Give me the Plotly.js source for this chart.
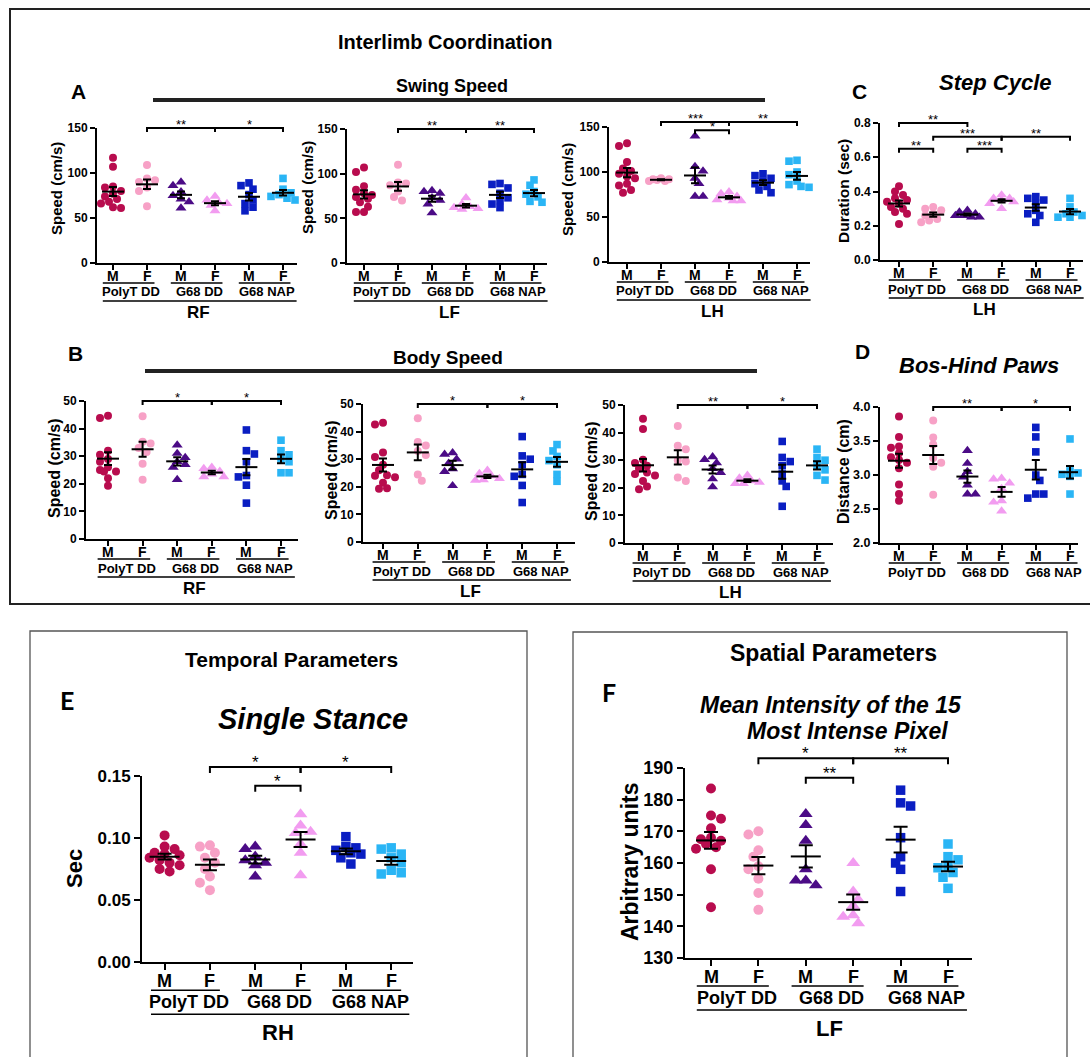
<!DOCTYPE html>
<html><head><meta charset="utf-8">
<script src="https://cdn.plot.ly/plotly-3.0.1.min.js"></script>
<style>body{margin:0;background:#fff}#chart{width:1090px;height:1057px}</style>
</head><body><div id="chart"></div>
<script>
const W = 1090, H = 1057;
const FONT = 'Liberation Sans, Arial, sans-serif';

// ---------- categories / labels ----------
const sexLabels = ['M', 'F', 'M', 'F', 'M', 'F'];
const groupLabels = ['PolyT DD', 'G68 DD', 'G68 NAP'];
const groupColors = ['#B80C4E', '#F7A1C6', '#4B0B86', '#F29CF0', '#0A1EC2', '#2AB5F5'];
const groupSymbols = ['circle', 'circle', 'triangle-up', 'triangle-up', 'square', 'square'];

// ---------- data (one list per group: PolyT M, PolyT F, G68DD M, G68DD F, NAP M, NAP F) ----------
const swingRF = [
  [117, 107, 85, 84, 80, 77, 74, 71, 68, 66, 62, 61],
  [109, 94, 92, 90, 84, 80, 63],
  [90, 86, 79, 75, 71, 68, 61],
  [74, 70, 67, 66, 64, 58],
  [89, 86, 82, 76, 70, 66, 62, 58],
  [94, 82, 78, 76, 74, 72, 70]];
const swingLF = [
  [107, 102, 86, 82, 78, 76, 74, 72, 68, 63, 57, 57],
  [110, 90, 89, 87, 80, 74, 70],
  [81, 80, 78, 73, 70, 66, 56],
  [73, 66, 63, 62, 61, 60],
  [89, 88, 84, 78, 73, 70, 66, 62],
  [93, 87, 80, 77, 74, 69, 68]];
const swingLH = [
  [132, 129, 111, 104, 101, 98, 95, 93, 87, 85, 80, 77],
  [93, 92, 91, 90, 90, 92],
  [140, 106, 101, 93, 87, 73, 73],
  [78, 76, 73, 71, 69, 68, 68],
  [98, 96, 93, 90, 87, 84, 80, 77],
  [113, 112, 100, 97, 90, 86, 84, 83]];
const stepCycleLH = [
  [0.43, 0.40, 0.38, 0.36, 0.35, 0.34, 0.33, 0.31, 0.30, 0.28, 0.27, 0.21],
  [0.31, 0.30, 0.29, 0.27, 0.26, 0.24, 0.23, 0.22],
  [0.29, 0.28, 0.27, 0.26, 0.26, 0.25, 0.25],
  [0.38, 0.36, 0.36, 0.35, 0.34, 0.33, 0.30],
  [0.37, 0.36, 0.35, 0.33, 0.29, 0.27, 0.26, 0.22],
  [0.36, 0.31, 0.28, 0.27, 0.26, 0.25, 0.25]];
const bodyRF = [
  [44.7, 43.8, 32, 30.5, 29, 28, 26, 25, 24.5, 24.5, 22, 19.3],
  [44.5, 35.2, 34.6, 33, 31.5, 27.3, 21.5],
  [34, 31, 29.5, 28, 27, 26, 21.5],
  [26, 25.5, 24.5, 23.5, 22.5, 22.5],
  [39.5, 32, 30.8, 28, 23, 22.5, 19.5, 13],
  [35.8, 32, 30.5, 29, 28, 24, 24]];
const bodyLF = [
  [43.2, 42.6, 32.4, 30.8, 28, 26, 24.2, 24, 23.5, 21.5, 19.5, 19.3],
  [44.8, 36.2, 35, 33, 31.5, 24.5, 22.2],
  [32.3, 31.8, 30, 28.5, 26.5, 25.5, 20.4],
  [26, 24.8, 24, 23, 22.5, 22.3],
  [38.2, 31.2, 30, 28, 24.5, 23.8, 20.5, 14.3],
  [35.3, 33, 31, 29.5, 28, 24.5, 22]];
const bodyLH = [
  [45, 41.3, 30.2, 29, 28, 27, 25.5, 25, 24.5, 22.5, 20.5, 19.5],
  [42.4, 35.2, 34, 30, 29.5, 23.7, 22.5],
  [31.2, 30.2, 29, 27, 25.5, 23.2, 20.3],
  [24.5, 23.5, 22.5, 22, 21.5, 21.5],
  [36.8, 31, 29.5, 28, 25, 22.5, 20.5, 13.3],
  [34, 31, 30, 28, 26.5, 24.5, 22.8]];
const bosHindPaws = [
  [3.86, 3.56, 3.42, 3.40, 3.32, 3.26, 3.22, 3.18, 3.10, 2.86, 2.72, 2.62],
  [3.80, 3.55, 3.45, 3.25, 3.18, 3.12, 2.71],
  [3.36, 3.17, 3.05, 2.97, 2.85, 2.72, 2.72],
  [2.95, 2.94, 2.88, 2.80, 2.62, 2.60, 2.47],
  [3.70, 3.56, 3.34, 3.00, 2.92, 2.72, 2.72, 2.66],
  [3.53, 3.06, 3.03, 3.01, 2.98, 2.96, 2.72]];
const singleStanceRH = [
  [0.102, 0.093, 0.091, 0.088, 0.087, 0.086, 0.084, 0.082, 0.080, 0.078, 0.075, 0.073],
  [0.094, 0.093, 0.088, 0.084, 0.080, 0.075, 0.069, 0.064, 0.058],
  [0.093, 0.091, 0.085, 0.082, 0.080, 0.078, 0.069],
  [0.119, 0.110, 0.105, 0.104, 0.095, 0.088, 0.070],
  [0.101, 0.093, 0.092, 0.090, 0.088, 0.087, 0.084, 0.079],
  [0.092, 0.091, 0.087, 0.084, 0.080, 0.074, 0.072, 0.071]];
const intensityLF = [
  [183.5, 175, 174, 171, 168, 167.5, 167, 166, 165, 164.5, 158, 146],
  [170, 169, 164, 162, 159, 158, 155, 150.5, 145.2],
  [175.5, 172, 167, 158, 154.5, 154.5, 153],
  [160, 151, 148.5, 146.5, 143.5, 143, 141],
  [183, 179, 178, 168, 162, 160, 158, 151],
  [166, 162, 161, 159, 158.5, 157, 155.5, 152]];

// significance brackets: [from group, to group, label, height in data units]
const sigSwingRF = [[1, 3, '**', 150], [3, 5, '*', 150]];
const sigSwingLF = [[1, 3, '**', 150], [3, 5, '**', 150]];
const sigSwingLH = [[1, 3, '***', 155.5], [3, 5, '**', 155.5], [2, 3, '*', 146.5]];
const sigStepCycle = [[0, 2, '**', 0.80], [1, 3, '***', 0.72], [3, 5, '**', 0.72], [0, 1, '**', 0.65], [2, 3, '***', 0.65]];
const sigBodyRF = [[1, 3, '*', 50], [3, 5, '*', 50]];
const sigBodyLF = [[1, 3, '*', 50], [3, 5, '*', 50]];
const sigBodyLH = [[1, 3, '**', 50], [3, 5, '*', 50]];
const sigBos = [[1, 3, '**', 4.0], [3, 5, '*', 4.0]];
const sigStance = [[1, 3, '*', 0.157], [3, 5, '*', 0.157], [2, 3, '*', 0.142]];
const sigIntensity = [[1, 3, '*', 193.1], [3, 5, '**', 193.1], [2, 3, '**', 186.9]];

// y tick values
const ticksSwing = [0, 50, 100, 150];
const ticksStep = [0, 0.2, 0.4, 0.6, 0.8];
const ticksBody = [0, 10, 20, 30, 40, 50];
const ticksBos = [2.0, 2.5, 3.0, 3.5, 4.0];
const ticksStance = [0, 0.05, 0.10, 0.15];
const ticksIntensity = [130, 140, 150, 160, 170, 180, 190];

// ---------- styles ----------
const SMALL = {marker: 8, meanHalf: 11, spread: 12, cap: 4, mf: 14, grp: 13, limb: 17, star: 13, off: [13, 20, 29, 38, 49], drop: 4, ticklen: 5, starGap: 5};
const BIG = {marker: 10, meanHalf: 15, spread: 15, cap: 7, mf: 18, grp: 18, limb: 22, star: 17, off: [19, 28, 40, 52, 70], drop: 6, ticklen: 6, starGap: 7};

// geometry: box = [yAxisX, firstCatX, lastCatX, xAxisEnd, yTopPx, yBottomPx]
const panels = [
  {data: swingRF, sig: sigSwingRF, yr: [0, 150], ticks: ticksSwing, dec: 0, box: [97, 113, 283, 297, 128, 263], ytitle: 'Speed (cm/s)', tpos: [56, 189], tfs: 15, tickfs: 12, limb: 'RF', S: SMALL},
  {data: swingLF, sig: sigSwingLF, yr: [0, 150], ticks: ticksSwing, dec: 0, box: [347, 364, 534, 547, 129, 263], ytitle: 'Speed (cm/s)', tpos: [307, 188], tfs: 15, tickfs: 12, limb: 'LF', S: SMALL},
  {data: swingLH, sig: sigSwingLH, yr: [0, 150], ticks: ticksSwing, dec: 0, box: [609, 627, 797, 810, 127, 262], ytitle: 'Speed (cm/s)', tpos: [567, 189], tfs: 15, tickfs: 12, limb: 'LH', S: SMALL},
  {data: stepCycleLH, sig: sigStepCycle, yr: [0, 0.8], ticks: ticksStep, dec: 1, box: [880, 899, 1070, 1083, 123, 260], ytitle: 'Duration (sec)', tpos: [844, 191], tfs: 15.5, tickfs: 12, limb: 'LH', S: SMALL},
  {data: bodyRF, sig: sigBodyRF, yr: [0, 50], ticks: ticksBody, dec: 0, box: [86, 108, 281, 298, 401, 539], ytitle: 'Speed (cm/s)', tpos: [54, 468], tfs: 16, tickfs: 12, limb: 'RF', S: SMALL},
  {data: bodyLF, sig: sigBodyLF, yr: [0, 50], ticks: ticksBody, dec: 0, box: [363, 383, 557, 575, 404, 542], ytitle: 'Speed (cm/s)', tpos: [331, 470], tfs: 16, tickfs: 12, limb: 'LF', S: SMALL},
  {data: bodyLH, sig: sigBodyLH, yr: [0, 50], ticks: ticksBody, dec: 0, box: [625, 643, 817, 833, 405, 543], ytitle: 'Speed (cm/s)', tpos: [591, 471], tfs: 16, tickfs: 12, limb: 'LH', S: SMALL},
  {data: bosHindPaws, sig: sigBos, yr: [2, 4], ticks: ticksBos, dec: 1, box: [880, 899, 1070, 1078, 407, 543], ytitle: 'Distance (cm)', tpos: [844, 472], tfs: 16, tickfs: 12.5, limb: null, S: SMALL},
  {data: singleStanceRH, sig: sigStance, yr: [0, 0.15], ticks: ticksStance, dec: 2, box: [142, 164.6, 391.2, 413, 775.7, 962.3], ytitle: 'Sec', tpos: [74, 869], tfs: 22, tickfs: 17, limb: 'RH', S: BIG},
  {data: intensityLF, sig: sigIntensity, yr: [130, 190], ticks: ticksIntensity, dec: 0, box: [685, 711, 948, 972, 768, 958], ytitle: 'Arbitrary units', tpos: [630, 862], tfs: 23, tickfs: 18, limb: 'LF', S: BIG}
];

const PX = x => x / W, PY = y => 1 - y / H;
const traces = [], shapes = [], annotations = [];
const layout = {width: W, height: H, margin: {l: 0, r: 0, t: 0, b: 0}, paper_bgcolor: '#fff', plot_bgcolor: 'rgba(0,0,0,0)', showlegend: false, hovermode: false};

function text(t, x, y, size, opts) {
  annotations.push(Object.assign({text: t, x: PX(x), y: PY(y), xref: 'paper', yref: 'paper', showarrow: false, xanchor: 'center', yanchor: 'middle', font: {family: FONT, size: size, color: '#000'}}, opts || {}));
}
function line(x0, y0, x1, y1, w, c) {
  shapes.push({type: 'line', xref: 'paper', yref: 'paper', x0: PX(x0), y0: PY(y0), x1: PX(x1), y1: PY(y1), line: {color: c || '#000', width: w}});
}
function rect(x0, y0, x1, y1, w, c) {
  shapes.push({type: 'rect', xref: 'paper', yref: 'paper', x0: PX(x0), y0: PY(y0), x1: PX(x1), y1: PY(y1), line: {color: c, width: w}, fillcolor: 'rgba(0,0,0,0)'});
}
// deterministic compact beeswarm (pixel space), offsets limited to +-maxOff px
function swarm(vals, d, pxPerUnit, sp, maxOff) {
  const order = vals.map((v, i) => i).sort((a, b) => vals[b] - vals[a]);
  const placed = [], offs = new Array(vals.length).fill(0);
  const base = [0];
  for (let j = 1; j * d / 2 < maxOff; j++) { base.push(j * d / 2, -j * d / 2); }
  base.push(maxOff, -maxOff);
  order.forEach((i, n) => {
    const y = vals[i] * pxPerUnit;
    const list = (n % 2) ? base.map(c => -c) : base;
    let chosen = null, bestC = 0, bestD = -1;
    for (const c of list) {
      const md = placed.reduce((m, q) => Math.min(m, Math.hypot(q.x - c, q.y - y)), Infinity);
      if (md >= d * 0.8) { chosen = c; break; }
      if (md > bestD) { bestD = md; bestC = c; }
    }
    if (chosen === null) chosen = bestC;
    placed.push({x: chosen, y: y});
    offs[i] = chosen / sp;
  });
  return offs;
}
const mean = a => a.reduce((s, v) => s + v, 0) / a.length;
const sem = a => { const m = mean(a); return Math.sqrt(a.reduce((s, v) => s + (v - m) * (v - m), 0) / (a.length - 1) / a.length); };

panels.forEach((p, k) => {
  const n = k + 1, ax = n === 1 ? '' : String(n);
  const [x0, c0, c5, x1, yT, yB] = p.box;
  const S = p.S;
  const sp = (c5 - c0) / 5;
  const cx = c => c0 + c * sp;
  const pxu = (yB - yT) / (p.yr[1] - p.yr[0]);
  const vy = v => yB - (v - p.yr[0]) * pxu;

  layout['xaxis' + ax] = {domain: [PX(x0), PX(x1)], range: [(x0 - c0) / sp, (x1 - c0) / sp], anchor: 'y' + ax,
    showline: true, linecolor: '#000', linewidth: 2, ticks: 'outside', ticklen: S.ticklen, tickwidth: 2, tickcolor: '#000',
    tickvals: [0, 1, 2, 3, 4, 5], showticklabels: false, showgrid: false, zeroline: false, fixedrange: true};
  layout['yaxis' + ax] = {domain: [PY(yB), PY(yT)], range: p.yr, anchor: 'x' + ax,
    showline: true, linecolor: '#000', linewidth: 2, ticks: 'outside', ticklen: S.ticklen, tickwidth: 2, tickcolor: '#000',
    tickvals: p.ticks, ticktext: p.ticks.map(t => '<b>' + t.toFixed(p.dec) + '</b>'),
    tickfont: {family: FONT, size: p.tickfs, color: '#000'}, showgrid: false, zeroline: false, fixedrange: true};

  // points
  p.data.forEach((vals, g) => {
    const offs = swarm(vals, S.marker, pxu, sp, S.spread);
    const sz = groupSymbols[g] === 'triangle-up' ? S.marker * 1.2 : (groupSymbols[g] === 'square' ? S.marker * 0.95 : S.marker);
    traces.push({type: 'scatter', mode: 'markers', xaxis: 'x' + ax, yaxis: 'y' + ax, cliponaxis: false,
      x: vals.map((v, i) => g + offs[i]), y: vals,
      marker: {symbol: groupSymbols[g], color: groupColors[g], size: sz, line: {width: 0}}});
  });
  // mean lines
  const means = p.data.map(mean), sems = p.data.map(sem);
  const h = S.meanHalf / sp;
  const mx = [], my = [];
  means.forEach((m, g) => { mx.push(g - h, g + h, null); my.push(m, m, null); });
  traces.push({type: 'scatter', mode: 'lines', xaxis: 'x' + ax, yaxis: 'y' + ax, cliponaxis: false, x: mx, y: my, line: {color: '#000', width: 2}});
  // SEM error bars
  traces.push({type: 'scatter', mode: 'markers', xaxis: 'x' + ax, yaxis: 'y' + ax, cliponaxis: false,
    x: [0, 1, 2, 3, 4, 5], y: means, marker: {size: 1, opacity: 0},
    error_y: {type: 'data', array: sems, visible: true, color: '#000', thickness: 2, width: S.cap}});

  // significance brackets
  p.sig.forEach(([a, b, lab, lev]) => {
    const y = vy(lev), xa = cx(a), xb = cx(b);
    shapes.push({type: 'path', xref: 'paper', yref: 'paper',
      path: `M ${PX(xa)} ${PY(y + S.drop)} L ${PX(xa)} ${PY(y)} L ${PX(xb)} ${PY(y)} L ${PX(xb)} ${PY(y + S.drop)}`,
      line: {color: '#000', width: 2}});
    text(lab, (xa + xb) / 2, y - S.starGap + 0.78 * S.star + 1, S.star, {yanchor: 'bottom', font: {family: FONT, size: S.star, color: '#000'}});
  });

  // x labels
  sexLabels.forEach((s, g) => text('<b>' + s + '</b>', cx(g), yB + S.off[0], S.mf));
  groupLabels.forEach((gl, j) => {
    line(cx(2 * j) - 0.3 * sp, yB + S.off[1], cx(2 * j + 1) + 0.22 * sp, yB + S.off[1], 1.6);
    text('<b>' + gl + '</b>', (cx(2 * j) + cx(2 * j + 1)) / 2 + 0.04 * sp, yB + S.off[2], S.grp);
  });
  if (p.limb) {
    line(cx(0) - 0.3 * sp, yB + S.off[3], cx(5) + 0.4 * sp, yB + S.off[3], 1.6);
    text('<b>' + p.limb + '</b>', (cx(0) + cx(5)) / 2, yB + S.off[4], S.limb);
  }
  // y title
  text('<b>' + p.ytitle + '</b>', p.tpos[0], p.tpos[1], p.tfs, {textangle: -90});
});

// ---------- frames, headings ----------
rect(10, 9, 1100, 604, 2, '#222');
rect(30, 631, 527, 1070, 1.3, '#555');
rect(573, 632, 1067, 1070, 1.3, '#555');

text('<b>Interlimb Coordination</b>', 445, 42, 20);
text('<b>Swing Speed</b>', 452, 86, 18);
line(153, 100, 765, 100, 4, '#222');
text('<b>A</b>', 78, 92, 21);
text('<b>C</b>', 859, 91, 21);
text('<b><i>Step Cycle</i></b>', 995, 82, 22);
text('<b>B</b>', 75, 353, 21);
text('<b>Body Speed</b>', 448, 358, 19);
line(145, 371, 757, 371, 4, '#222');
text('<b>D</b>', 862, 351, 21);
text('<b><i>Bos-Hind Paws</i></b>', 979, 366, 22);

text('<b>Temporal Parameters</b>', 291, 659, 21);
text('<b>E</b>', 67, 700, 25, {font: {family: 'Lato, Liberation Sans, sans-serif', size: 25, color: '#000'}});
text('<b><i>Single Stance</i></b>', 313, 719, 29);
text('<b>Spatial Parameters</b>', 833, 653, 23);
text('<b>F</b>', 609, 692, 25, {font: {family: 'Lato, Liberation Sans, sans-serif', size: 25, color: '#000'}});
text('<b><i>Mean Intensity of the 15</i></b>', 831, 705, 23);
text('<b><i>Most Intense Pixel</i></b>', 847, 731, 23);

layout.shapes = shapes;
layout.annotations = annotations;
Plotly.newPlot('chart', traces, layout, {staticPlot: true, displayModeBar: false});
</script>
</body></html>
